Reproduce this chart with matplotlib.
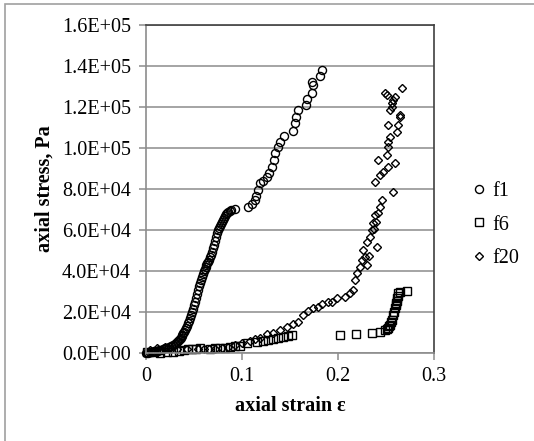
import matplotlib
matplotlib.use("Agg")
import matplotlib.pyplot as plt
from matplotlib.ticker import FuncFormatter
from matplotlib.patches import Rectangle

# ---- data (axial strain, axial stress in Pa) ----
f1_x = [0.000, 0.002, 0.004, 0.006, 0.008, 0.010, 0.012, 0.014, 0.016, 0.018,
        0.020, 0.022, 0.024, 0.026, 0.028, 0.030, 0.031, 0.032, 0.033, 0.034,
        0.035, 0.036, 0.037, 0.038, 0.039, 0.040, 0.041, 0.042, 0.043, 0.044,
        0.045, 0.046, 0.047, 0.048, 0.049, 0.050, 0.051, 0.052, 0.053, 0.054,
        0.055, 0.056, 0.057, 0.058, 0.059, 0.060, 0.061, 0.062, 0.063, 0.064,
        0.065, 0.066, 0.067, 0.068, 0.069, 0.070, 0.071, 0.072, 0.073, 0.074,
        0.075, 0.076, 0.077, 0.078, 0.079, 0.080, 0.081, 0.082, 0.083, 0.084,
        0.085, 0.087, 0.089, 0.093,
        0.106, 0.110, 0.1135, 0.115, 0.117, 0.119, 0.122, 0.126, 0.128, 0.131,
        0.133, 0.134, 0.137, 0.140, 0.144, 0.153, 0.155, 0.156, 0.158, 0.167,
        0.168, 0.173, 0.174, 0.173, 0.181, 0.183]
f1_y = [0, 200, 400, 600, 800, 1000, 1200, 1400, 1700, 1900,
        2200, 2500, 2900, 3300, 3800, 4400, 4800, 5200, 5700, 6200,
        6800, 7400, 8100, 8800, 9600, 10400, 11300, 12300, 13400, 14500,
        15700, 17000, 18400, 19900, 21500, 23200, 25000, 26900, 28800, 30700,
        32500, 34200, 35800, 37300, 38600, 39800, 40900, 41900, 42800, 43700,
        44600, 45600, 46700, 47900, 49300, 51000, 52800, 54700, 56600, 58300,
        59800, 61000, 62100, 63100, 64100, 65100, 66000, 66900, 67600, 68200,
        68700, 69300, 69800, 70200,
        71200, 72500, 74600, 76500, 79500, 82900, 84000, 85900, 88000, 90700,
        94000, 97600, 100500, 102900, 105900, 108300, 112200, 115000, 118500, 121000,
        123900, 126800, 130500, 132200, 135100, 138000]

f6_x = [0.001, 0.008, 0.015, 0.022, 0.028, 0.034, 0.040, 0.044, 0.048, 0.052,
        0.056, 0.067, 0.072, 0.077, 0.082, 0.088, 0.093, 0.098, 0.105, 0.116,
        0.122, 0.127, 0.132, 0.1375, 0.143, 0.148, 0.152,
        0.202, 0.219, 0.235, 0.244, 0.249, 0.251, 0.252, 0.253, 0.254, 0.255,
        0.256, 0.257, 0.258, 0.259, 0.260, 0.2605, 0.261, 0.2615, 0.262, 0.2625,
        0.2645, 0.272]
f6_y = [490, 300, 0, 600, 490, 900, 1500, 2000, 1800, 2000,
        2200, 1950, 2400, 2400, 2600, 2900, 3200, 3400, 4900, 5400,
        5900, 6300, 6800, 7300, 7800, 8300, 8800,
        8800, 9300, 9800, 10200, 11200, 11800, 12200, 13000, 13700, 15000,
        16100, 18500, 20000, 22000, 23300, 24400, 25600, 26800, 28000, 29300,
        29800, 30200]

f20_x = [0.000, 0.004, 0.011, 0.020, 0.026, 0.032, 0.043, 0.054, 0.060, 0.066,
         0.072, 0.079, 0.085, 0.093, 0.100, 0.108, 0.114, 0.119, 0.126, 0.132,
         0.140, 0.147, 0.153, 0.158, 0.1635, 0.169, 0.174, 0.179, 0.183, 0.190,
         0.194, 0.199, 0.207, 0.2125, 0.2155, 0.218, 0.220, 0.223, 0.225, 0.228,
         0.230, 0.226, 0.230, 0.233, 0.241, 0.235, 0.236, 0.2385, 0.2415, 0.244,
         0.246, 0.2385, 0.244, 0.247, 0.257, 0.252, 0.2415, 0.251, 0.252, 0.252,
         0.254, 0.259, 0.2615, 0.2625, 0.2645, 0.252, 0.254, 0.256, 0.251, 0.257,
         0.259, 0.2665, 0.256, 0.2645, 0.249, 0.232, 0.237, 0.240]
f20_y = [0, 1460, 2400, 2900, 2000, 1950, 1950, 1950, 2100, 2000,
         1950, 2400, 2900, 3900, 4900, 5900, 6600, 7300, 9300, 9800,
         11200, 12700, 14100, 15100, 18500, 20500, 22000, 22400, 23900, 24900,
         24900, 26800, 27300, 29300, 30700, 35600, 39000, 42000, 45400, 46800,
         42900, 50200, 54100, 56600, 51700, 60000, 63400, 67300, 68300, 71200,
         74600, 83400, 86800, 88300, 78500, 90700, 94100, 96600, 100500, 102900,
         105400, 92700, 107800, 111200, 115100, 111200, 118500, 122000, 125900, 123400,
         124900, 129300, 120000, 116100, 126800, 47500, 60500, 64000]

series_labels = ["f1", "f6", "f20"]
y_ticks = [0, 20000, 40000, 60000, 80000, 100000, 120000, 140000, 160000]
x_ticks = [0, 0.1, 0.2, 0.3]

plt.rcParams['font.family'] = ['Liberation Serif', 'DejaVu Serif']
FS = 14.5

fig = plt.figure(figsize=(5.34, 4.41), dpi=100)
ax = fig.add_axes([146/534, 1 - 353/441, (434 - 146)/534, (353 - 25)/441])

# chart-area border (only left and top edges visible in the image)
fig.patches.append(Rectangle((5/534, -0.05), 1.2, 1 - 4/441 + 0.05,
                             transform=fig.transFigure, fill=False,
                             edgecolor='#a0a0a0', linewidth=1.2))

mk = dict(linestyle='none', markerfacecolor='none', markeredgecolor='black',
          markeredgewidth=1.0, clip_on=False)
ax.plot(f1_x, f1_y, marker='o', markersize=5.8, label=series_labels[0], **mk)
ax.plot(f6_x, f6_y, marker='s', markersize=5.2, label=series_labels[1], **mk)
ax.plot(f20_x, f20_y, marker='D', markersize=4.2, label=series_labels[2], **mk)

ax.set_xlim(0, 0.3)
ax.set_ylim(0, 160000)
ax.set_yticks(y_ticks)
ax.set_xticks(x_ticks)
ax.yaxis.set_major_formatter(FuncFormatter(lambda v, p: f"{v:.1E}"))
ax.xaxis.set_major_formatter(FuncFormatter(lambda v, p: "0" if v == 0 else f"{v:g}"))

ax.grid(axis='y', color='#8c8c8c', linewidth=1.1)
ax.set_axisbelow(True)
for s in ['left', 'bottom']:
    ax.spines[s].set_color('#8c8c8c')
    ax.spines[s].set_linewidth(1.2)
for s in ['top', 'right']:
    ax.spines[s].set_color('#404040')
    ax.spines[s].set_linewidth(1.2)

ax.tick_params(axis='both', direction='out', length=5, width=1.1,
               labelsize=FS, labelcolor='black', color='#8c8c8c')
ax.tick_params(axis='y', pad=6)
ax.tick_params(axis='x', pad=5)

ax.set_ylabel("axial stress, Pa", fontsize=FS, fontweight='bold', labelpad=5)
ax.set_xlabel("axial strain ε", fontsize=FS, fontweight='bold', labelpad=7)

fig.legend(loc='center left', bbox_to_anchor=(472/534, 1 - 225/441),
           frameon=False, fontsize=FS, handlelength=0.7, handletextpad=0.3,
           labelspacing=0.7, borderpad=0, borderaxespad=0)

fig.savefig("out.png", dpi=100)
